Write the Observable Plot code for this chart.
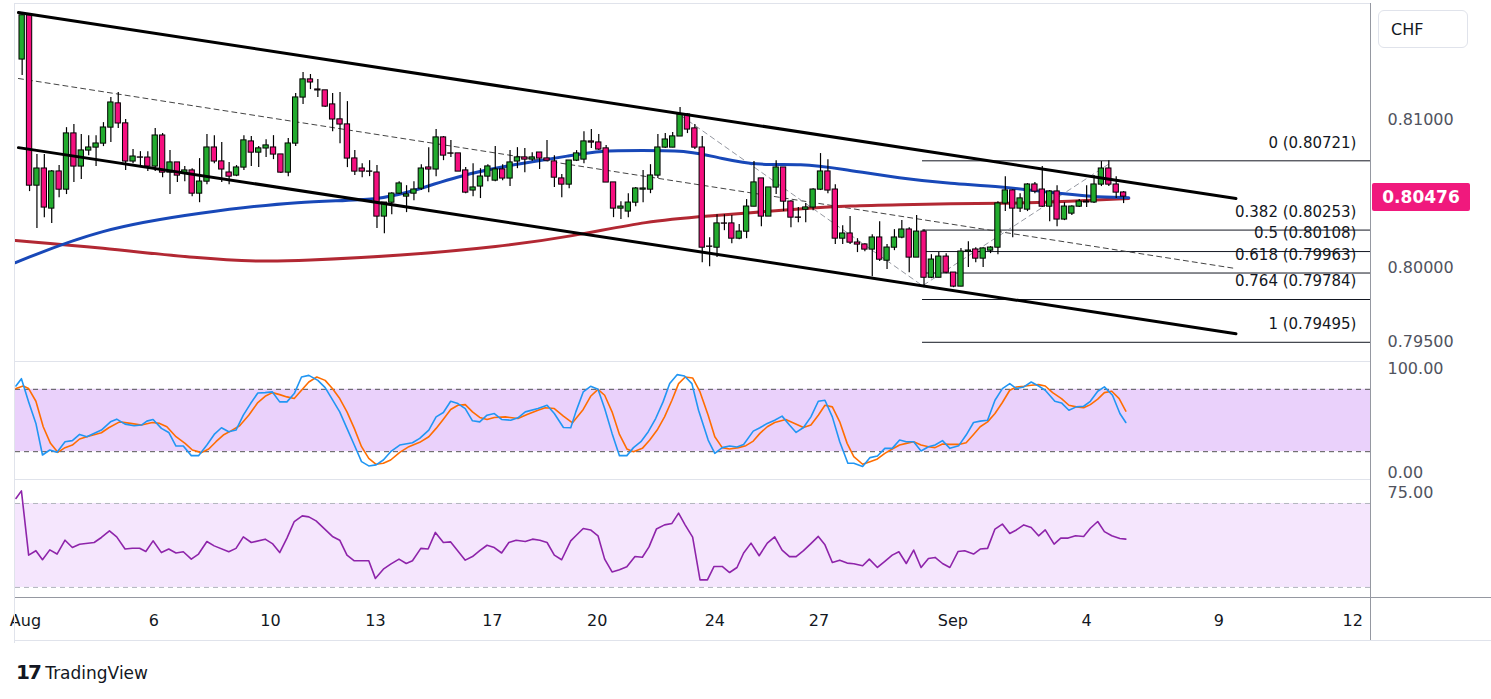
<!DOCTYPE html>
<html><head><meta charset="utf-8">
<script src="https://cdn.jsdelivr.net/npm/d3@7"></script>
<script src="https://cdn.jsdelivr.net/npm/@observablehq/plot@0.6"></script>
<style>
body{margin:0;background:#fff;font-family:"DejaVu Sans",Verdana,sans-serif;}
#wrap{position:relative;width:1491px;height:699px;overflow:hidden;}
.pane{position:absolute;left:0;}
.sep{position:absolute;background:#e0e3eb;}
</style></head><body><div id="wrap"></div>
<script>
// candles in 1e-5 price units (pipettes), 4H bars
const openP=[81405,81703,80553,80668,80398,80648,80526,80905,80682,80790,80810,80837,80945,81108,80973,80716,80743,80742,80682,80891,80641,80709,80635,80655,80499,80580,80810,80716,80641,80621,80675,80851,80776,80804,80810,80763,80641,80837,81148,81270,81202,81196,81101,81000,80966,80736,80668,80648,80641,80344,80438,80499,80479,80499,80533,80675,80662,80878,80770,80770,80655,80520,80547,80614,80587,80662,80601,80716,80743,80729,80776,80736,80716,80601,80560,80722,80729,80851,80844,80804,80574,80398,80378,80438,80526,80526,80621,80810,80810,80885,81033,80939,80810,80141,80134,80297,80297,80195,80242,80411,80601,80344,80540,80675,80445,80337,80391,80405,80526,80648,80526,80195,80229,80168,80155,80121,80202,80046,80134,80202,80256,80067,80242,79931,79931,80073,79965,79871,80107,80121,80060,80114,80134,80432,80520,80398,80391,80560,80526,80411,80513,80324,80364,80411,80445,80439,80560,80668,80560,80506];
const closeP=[81703,80553,80668,80405,80648,80526,80905,80682,80790,80810,80837,80945,81114,80973,80716,80749,80742,80682,80891,80641,80709,80621,80655,80499,80580,80810,80716,80662,80614,80675,80858,80776,80804,80824,80763,80641,80837,81148,81270,81250,81196,81087,81000,80966,80736,80648,80648,80647,80344,80438,80499,80567,80493,80526,80668,80662,80878,80756,80769,80648,80506,80540,80614,80682,80662,80601,80709,80743,80729,80743,80736,80722,80607,80560,80722,80770,80851,80844,80797,80574,80398,80411,80438,80533,80533,80621,80810,80864,80885,81033,80932,80810,80134,80140,80297,80296,80195,80242,80411,80574,80344,80540,80675,80445,80337,80336,80405,80526,80648,80520,80195,80229,80168,80155,80121,80202,80053,80134,80202,80256,80067,80242,79931,80053,80073,79965,79871,80107,80114,80060,80128,80134,80432,80520,80398,80466,80560,80513,80411,80513,80324,80411,80411,80445,80439,80560,80668,80560,80506,80479];
const highP=[81716,81716,80763,80763,80655,80689,80945,80966,80898,80891,80891,80979,81148,81182,81000,80797,80783,80783,80939,80905,80790,80709,80682,80668,80736,80898,80891,80844,80709,80689,80891,80885,80817,80864,80891,80763,80871,81175,81317,81304,81270,81196,81175,81182,81121,80790,80702,80722,80689,80438,80506,80580,80553,80580,80695,80810,80932,80885,80858,80770,80675,80702,80668,80695,80817,80695,80790,80810,80804,80776,80776,80858,80756,80628,80722,80790,80918,80932,80898,80824,80574,80445,80499,80540,80655,80695,80898,80905,80912,81081,81040,80966,80885,80202,80357,80357,80351,80290,80459,80716,80601,80540,80722,80675,80452,80405,80432,80533,80770,80729,80560,80283,80344,80195,80161,80222,80310,80155,80256,80317,80269,80351,80256,80087,80101,80094,79965,80128,80175,80134,80134,80141,80445,80614,80526,80499,80567,80574,80682,80520,80553,80438,80418,80459,80553,80621,80716,80722,80614,80513];
const lowP=[81297,80513,80263,80337,80297,80472,80493,80574,80594,80756,80682,80817,80844,80939,80655,80702,80675,80648,80648,80607,80493,80574,80580,80479,80438,80560,80702,80574,80560,80614,80655,80682,80675,80743,80729,80635,80614,80817,81101,81202,81148,81081,80918,80837,80675,80621,80607,80614,80263,80229,80357,80493,80371,80452,80520,80506,80614,80722,80743,80648,80499,80479,80466,80580,80580,80587,80547,80668,80641,80716,80662,80722,80540,80472,80533,80716,80702,80804,80790,80574,80337,80324,80337,80411,80438,80499,80601,80804,80810,80885,80905,80797,80033,80006,80067,80249,80161,80188,80195,80411,80276,80344,80493,80378,80269,80303,80303,80384,80520,80499,80155,80155,80155,80101,80107,79938,80040,79986,80114,80195,79965,80067,79864,79925,79931,79958,79864,79871,80000,80033,80000,80094,80087,80378,80202,80371,80378,80499,80405,80310,80276,80317,80351,80405,80405,80432,80547,80547,80466,80432];
// moving averages [bar, price]
const maBlue=[[-0.9,0.80033],[10.6,0.80263],[24.1,0.80371],[37.7,0.80452],[48.5,0.80452],[53.9,0.80533],[60.6,0.80641],[67.4,0.80702],[74.2,0.80756],[78.2,0.80790],[83.7,0.80790],[90.4,0.80790],[94.5,0.80736],[99.9,0.80689],[105.3,0.80702],[110.7,0.80668],[118.9,0.80601],[125.6,0.80567],[132.4,0.80547],[139.2,0.80506],[144.6,0.80479],[149.7,0.80472]];
const maRed=[[-0.9,0.80182],[10.6,0.80134],[24.1,0.80060],[32.2,0.80040],[37.7,0.80046],[51.2,0.80080],[64.7,0.80141],[74.2,0.80209],[85.0,0.80317],[91.8,0.80344],[105.3,0.80398],[112.1,0.80418],[118.9,0.80425],[125.6,0.80432],[132.4,0.80432],[140.5,0.80445],[149.7,0.80466]];
const chanUpper=[[-0.5,0.81723],[164.2,0.80466]];
const chanLower=[[-0.5,0.80810],[164.2,0.79553]];
const chanMid=[[-0.5,0.81277],[164.2,0.79993]];
const swing=[[89.1,0.81027],[121.8,0.79877],[147.3,0.80709]];
const fibRatios=["0","0.382","0.5","0.618","0.764","1"];
const fibPrices=[0.80721,0.80253,0.80108,0.79963,0.79784,0.79495];
const fibStart=121.8;
const lastPrice=0.80476;
// stochastic
const stochK=[[-0.84,83.2],[-0.1,90.2],[0.88,67.9],[1.86,47.2],[2.75,16.8],[3.74,21.6],[4.72,19.4],[5.8,29.6],[6.79,30.6],[7.77,36.6],[8.75,34.4],[10.72,40.8],[11.95,48.7],[12.79,51.3],[13.92,46.5],[15.15,44.9],[16.14,45.6],[16.87,49.4],[17.71,51.0],[18.84,42.4],[19.83,38.5],[20.81,25.4],[21.8,25.4],[22.88,16.2],[23.86,16.2],[24.99,26.4],[25.98,36.6],[26.96,43.0],[27.95,39.2],[28.93,40.8],[29.92,55.1],[30.9,66.3],[31.88,76.5],[32.87,76.8],[33.85,77.5],[34.84,67.9],[35.82,67.9],[36.81,75.9],[37.79,91.8],[38.78,93.4],[40.0,88.6],[40.99,81.6],[41.97,70.1],[42.96,58.3],[43.94,42.4],[44.93,26.4],[45.91,10.4],[46.89,6.3],[47.88,7.3],[48.86,12.0],[49.85,20.0],[51.08,26.4],[52.8,28.6],[53.78,32.8],[55.01,40.8],[56.0,53.5],[56.98,57.7],[57.97,68.5],[58.95,66.3],[59.94,61.5],[60.92,49.7],[61.9,48.7],[62.89,55.1],[63.87,56.7],[64.86,51.0],[66.09,50.3],[67.07,52.6],[68.06,58.3],[69.78,61.5],[71.01,64.7],[71.99,56.7],[73.22,43.3],[74.21,43.0],[74.9,58.3],[75.9,77.5],[76.9,82.9],[77.9,80.0],[78.8,61.5],[79.8,37.6],[80.8,16.2],[81.8,16.2],[82.7,23.9],[83.7,29.6],[84.7,39.2],[85.7,51.9],[86.7,67.9],[87.6,85.5],[88.6,94.1],[89.6,92.8],[90.6,85.5],[91.5,59.9],[92.8,31.2],[93.7,18.4],[94.7,23.9],[95.7,25.4],[96.7,24.5],[97.6,27.0],[98.9,39.8],[99.8,43.0],[100.8,47.2],[101.8,50.3],[102.8,54.2],[103.8,45.6],[104.7,38.5],[105.7,43.3],[106.7,53.5],[107.7,68.5],[108.6,69.5],[109.6,53.5],[110.6,29.6],[111.7,8.8],[112.5,8.8],[113.7,5.7],[114.7,14.3],[115.7,15.9],[116.7,23.2],[117.7,23.2],[118.7,31.2],[119.6,29.6],[120.6,29.6],[121.6,20.7],[122.6,24.8],[123.5,26.4],[124.5,30.6],[125.5,23.2],[126.7,25.8],[127.7,36.0],[128.7,48.1],[129.6,49.4],[130.6,50.3],[131.6,69.5],[132.6,80.7],[133.6,85.5],[134.5,80.7],[135.5,82.3],[136.5,87.0],[137.5,83.2],[138.4,79.1],[139.7,68.5],[140.6,66.9],[141.6,59.9],[142.6,63.1],[143.6,63.7],[144.5,68.5],[145.5,78.1],[146.4,82.3],[147.5,74.3],[148.5,56.7],[149.3,48.1]];
const stochD=[[-0.84,80.7],[0.14,83.2],[0.88,80.7],[1.86,68.5],[2.85,44.0],[3.83,28.0],[4.82,19.4],[5.8,23.9],[6.79,26.4],[7.77,32.2],[8.75,34.4],[10.72,38.2],[11.71,43.0],[13.18,48.7],[14.66,47.2],[16.14,45.6],[17.61,48.1],[18.6,47.2],[19.58,44.0],[20.81,34.4],[22.04,28.0],[23.03,21.6],[24.26,19.1],[25.24,22.6],[26.22,29.6],[27.21,36.0],[28.19,39.8],[29.42,44.9],[30.65,55.1],[31.88,67.3],[32.87,73.3],[33.85,76.8],[34.84,74.9],[35.82,72.7],[36.81,71.1],[37.79,79.1],[38.78,87.0],[39.86,91.8],[40.99,88.6],[41.97,80.7],[42.96,71.1],[43.94,58.3],[44.93,42.4],[45.91,24.8],[46.89,13.6],[47.88,7.9],[48.86,8.8],[49.85,12.0],[51.08,19.4],[52.31,24.8],[53.78,29.0],[55.01,34.4],[56.0,42.4],[56.98,51.3],[57.97,60.6],[58.95,64.7],[59.94,65.3],[60.92,58.3],[61.9,52.9],[62.89,51.0],[63.87,52.9],[65.35,53.5],[67.07,51.9],[68.3,55.8],[69.78,59.9],[70.76,62.2],[71.99,61.5],[73.22,54.3],[74.45,47.8],[75.9,60.6],[76.9,73.3],[77.9,80.0],[78.8,74.3],[79.8,58.3],[80.8,36.6],[81.8,22.6],[82.7,20.0],[83.9,23.2],[84.9,31.2],[85.9,40.8],[86.9,53.5],[87.9,69.5],[88.8,85.5],[89.7,91.8],[90.7,90.9],[91.7,77.5],[92.8,55.1],[93.7,34.4],[94.7,23.9],[95.7,22.6],[96.9,23.9],[97.9,25.8],[98.9,30.2],[99.8,37.6],[100.8,44.0],[101.8,48.1],[103.3,51.0],[104.5,47.2],[105.7,43.3],[106.7,45.6],[107.7,55.1],[108.6,64.7],[109.6,63.1],[110.6,48.7],[111.6,28.0],[112.5,15.2],[113.7,7.9],[114.7,10.4],[115.7,13.0],[116.7,18.4],[117.7,22.6],[118.7,26.4],[119.6,28.0],[120.6,29.6],[121.6,26.4],[122.6,24.8],[123.5,23.9],[124.5,27.4],[125.5,27.0],[126.7,27.0],[127.7,28.6],[128.7,36.6],[129.6,44.0],[130.6,48.7],[131.6,56.7],[132.6,67.3],[133.6,79.1],[134.5,82.3],[135.5,82.9],[136.5,83.9],[137.5,84.5],[138.4,83.2],[139.4,76.8],[140.6,71.1],[141.6,64.7],[142.6,63.1],[143.6,62.2],[144.5,65.3],[145.5,70.5],[146.4,76.8],[147.4,78.1],[148.4,71.1],[149.3,59.0]];
const rsi=[[-0.84,72.4],[-0.1,76.0],[0.88,45.4],[1.86,47.5],[2.75,43.2],[3.74,47.9],[4.72,45.9],[5.8,52.5],[6.79,49.0],[7.77,50.6],[9.74,51.4],[10.72,53.8],[11.81,57.0],[12.79,54.1],[13.92,48.3],[14.91,48.7],[15.89,48.7],[16.73,47.1],[17.71,52.2],[18.84,46.6],[19.83,48.3],[20.81,46.4],[21.8,47.0],[22.88,43.5],[23.86,45.9],[24.99,51.9],[25.98,49.8],[27.95,47.0],[28.93,48.6],[29.92,54.1],[31.0,51.4],[32.87,53.0],[33.85,50.9],[34.84,46.6],[35.82,53.5],[36.81,61.4],[37.89,64.1],[38.78,63.6],[39.76,61.7],[41.97,54.3],[42.96,52.5],[43.94,45.4],[44.93,42.7],[46.89,42.7],[47.78,34.3],[48.86,38.7],[49.85,41.1],[50.98,43.5],[51.96,41.4],[52.8,42.7],[53.93,48.6],[54.92,48.3],[55.9,56.2],[56.98,51.4],[57.97,51.7],[59.94,43.0],[60.92,44.7],[61.9,47.5],[62.89,50.1],[63.87,49.0],[64.86,46.4],[65.84,51.4],[66.83,52.5],[68.06,51.9],[69.04,53.0],[70.03,52.5],[71.01,51.4],[71.99,45.4],[72.98,43.2],[74.21,52.2],[74.9,54.6],[75.9,58.1],[76.9,57.4],[77.9,54.6],[78.8,43.5],[79.8,37.4],[80.8,38.4],[81.8,39.8],[82.9,44.7],[83.9,44.4],[84.8,49.3],[85.8,57.8],[86.9,59.8],[87.9,60.5],[88.8,65.4],[89.7,59.7],[90.7,54.0],[91.7,33.6],[92.7,33.6],[93.6,40.0],[94.7,40.0],[95.7,37.1],[96.7,39.5],[97.6,46.4],[98.6,51.1],[99.7,45.1],[100.8,51.1],[101.8,54.1],[102.8,47.8],[103.8,44.7],[104.7,44.7],[105.7,47.5],[106.7,50.9],[107.7,54.3],[108.6,50.3],[109.6,41.9],[110.6,43.0],[111.6,41.6],[112.5,41.3],[113.7,40.3],[114.6,43.5],[115.7,39.5],[116.7,42.4],[117.7,45.4],[118.6,47.0],[119.6,41.4],[120.6,47.8],[121.6,39.5],[122.6,43.8],[123.5,44.3],[124.5,41.4],[125.5,39.5],[126.6,47.1],[127.5,47.5],[128.7,45.9],[129.6,48.3],[130.6,48.6],[131.6,57.8],[132.6,60.2],[133.6,55.7],[134.5,57.4],[135.5,59.8],[136.5,58.6],[137.5,54.6],[138.4,57.4],[139.6,50.6],[140.5,53.5],[141.5,53.5],[142.5,54.6],[143.6,54.3],[144.5,58.2],[145.5,61.4],[146.4,56.6],[147.4,54.6],[148.5,53.3],[149.3,53.0]];
const tickBars=[0.45,17.8,33.6,47.8,63.6,77.8,93.7,107.8,125.9,144.0,161.9,180.0];
const tickLabels=["Aug","6","10","13","17","20","24","27","Sep","4","9","12"];

const W=1491, ML=15, MR=121, XD=[-0.9,182.4];
const FONT='"DejaVu Sans",Verdana,sans-serif';
const candles=openP.map((o,i)=>({i,o:o/1e5,c:closeP[i]/1e5,h:highP[i]/1e5,l:lowP[i]/1e5,up:closeP[i]>=o}));
const wrap=document.getElementById("wrap");
function place(el,top){el.classList.add("pane");el.style.top=top+"px";wrap.appendChild(el);return el;}
const pt=a=>({x:a[0],y:a[1]});
const yAxis=(ticks,fmt)=>Plot.axisY({anchor:"right",label:null,ticks,tickFormat:fmt,tickSize:0,tickPadding:17,fontSize:16,fill:"#50535e",textAnchor:"start"});

const main=Plot.plot({width:W,height:360,marginLeft:ML,marginRight:MR,marginTop:0,marginBottom:0,
  style:{fontFamily:FONT,overflow:"visible"},
  x:{domain:XD,axis:null},y:{domain:[0.79372,0.81804],label:null},
  marks:[
    yAxis([0.795,0.800,0.810],d=>d.toFixed(5)),
    Plot.ruleY(fibPrices,{x1:fibStart,x2:XD[1],stroke:"#131722",strokeWidth:1}),
    Plot.text(fibPrices,{x:180.5,y:d=>d,text:(d,i)=>`${fibRatios[i]} (${d.toFixed(5)})`,textAnchor:"end",dy:-18,fontSize:15,fill:"#131722"}),
    Plot.line(chanMid.map(pt),{x:"x",y:"y",stroke:"#444",strokeWidth:1,strokeDasharray:"5,4"}),
    Plot.line(swing.map(pt),{x:"x",y:"y",stroke:"#9598a1",strokeWidth:1,strokeDasharray:"5,4"}),
    Plot.line(maRed.map(pt),{x:"x",y:"y",stroke:"#b22833",strokeWidth:3,curve:"basis"}),
    Plot.line(maBlue.map(pt),{x:"x",y:"y",stroke:"#1848b8",strokeWidth:3,curve:"basis"}),
    Plot.ruleX(candles,{x:"i",y1:"l",y2:"h",stroke:"#000",strokeWidth:1.2}),
    Plot.rect(candles,{x1:d=>d.i-0.36,x2:d=>d.i+0.36,y1:d=>Math.min(d.o,d.c),y2:d=>Math.max(d.o,d.c)+0.000012,fill:d=>d.up?"#22ab2e":"#f50f7f",stroke:"#000",strokeWidth:1}),
    Plot.line(chanUpper.map(pt),{x:"x",y:"y",stroke:"#000",strokeWidth:3}),
    Plot.line(chanLower.map(pt),{x:"x",y:"y",stroke:"#000",strokeWidth:3}),
  ]});
place(main,0);

const stoch=Plot.plot({width:W,height:116,marginLeft:ML,marginRight:MR,marginTop:0,marginBottom:0,
  style:{fontFamily:FONT,overflow:"visible"},
  x:{domain:XD,axis:null},y:{domain:[-5.8,105.8],label:null},
  marks:[
    Plot.rectY([0],{x1:XD[0],x2:XD[1],y1:20,y2:80,fill:"#ead1fb"}),
    Plot.ruleY([20,80],{stroke:"#555",strokeDasharray:"5,4",strokeWidth:1}),
    yAxis([0,100],d=>d.toFixed(2)),
    Plot.line(stochD.map(pt),{x:"x",y:"y",stroke:"#ff6d00",strokeWidth:1.6}),
    Plot.line(stochK.map(pt),{x:"x",y:"y",stroke:"#2196f3",strokeWidth:1.6}),
  ]});
place(stoch,362);

const rsiP=Plot.plot({width:W,height:117,marginLeft:ML,marginRight:MR,marginTop:0,marginBottom:0,
  style:{fontFamily:FONT,overflow:"visible"},
  x:{domain:XD,axis:null},y:{domain:[25.2,80.95],label:null},
  marks:[
    Plot.rectY([0],{x1:XD[0],x2:XD[1],y1:30,y2:70,fill:"#f5e6fd"}),
    Plot.ruleY([30,70],{stroke:"#b2b5be",strokeDasharray:"5,4",strokeWidth:1}),
    yAxis([75],d=>d.toFixed(2)),
    Plot.line(rsi.map(pt),{x:"x",y:"y",stroke:"#8e24aa",strokeWidth:1.6}),
  ]});
place(rsiP,480);

const xa=Plot.plot({width:W,height:46,marginLeft:ML,marginRight:MR,marginTop:0,marginBottom:45,
  style:{fontFamily:FONT,overflow:"visible"},
  x:{domain:XD,label:null},y:{axis:null},
  marks:[Plot.axisX({anchor:"bottom",label:null,ticks:tickBars,tickFormat:(d,i)=>tickLabels[i],tickSize:0,tickPadding:16,fontSize:16,fill:"#131722"})]});
place(xa,597);

// separators & borders
function sep(l,t,w,h,c){const d=document.createElement("div");d.className="sep";Object.assign(d.style,{left:l+"px",top:t+"px",width:w+"px",height:h+"px"});if(c)d.style.background=c;wrap.appendChild(d);}
sep(15,3,1355,1);sep(15,361,1355,1);sep(15,479,1355,1);sep(15,597,1476,1,"#9598a1");
sep(1370,3,1,637,"#9598a1");sep(14,3,1,640);sep(15,640,1476,1);

// current price tag
const yPx=main.scale("y").apply(lastPrice);
const tag=document.createElement("div");
Object.assign(tag.style,{position:"absolute",left:"1372px",top:(yPx-14)+"px",width:"98px",height:"28px",background:"#f0197d",color:"#fff",font:"bold 17px "+FONT,lineHeight:"28px",textAlign:"center",borderRadius:"2px"});
tag.textContent=lastPrice.toFixed(5);wrap.appendChild(tag);
const chf=document.createElement("div");
Object.assign(chf.style,{position:"absolute",left:"1378px",top:"10px",width:"90px",height:"38px",border:"1px solid #e0e3eb",borderRadius:"6px",font:"16px "+FONT,color:"#131722",lineHeight:"38px",boxSizing:"border-box",textIndent:"12px"});
chf.textContent="CHF";wrap.appendChild(chf);
const logo=document.createElement("div");
Object.assign(logo.style,{position:"absolute",left:"16px",top:"660px",font:"17px "+FONT,color:"#131722"});
logo.innerHTML='<b style="font-size:20px;letter-spacing:-2px">17</b> TradingView';wrap.appendChild(logo);
</script></body></html>
